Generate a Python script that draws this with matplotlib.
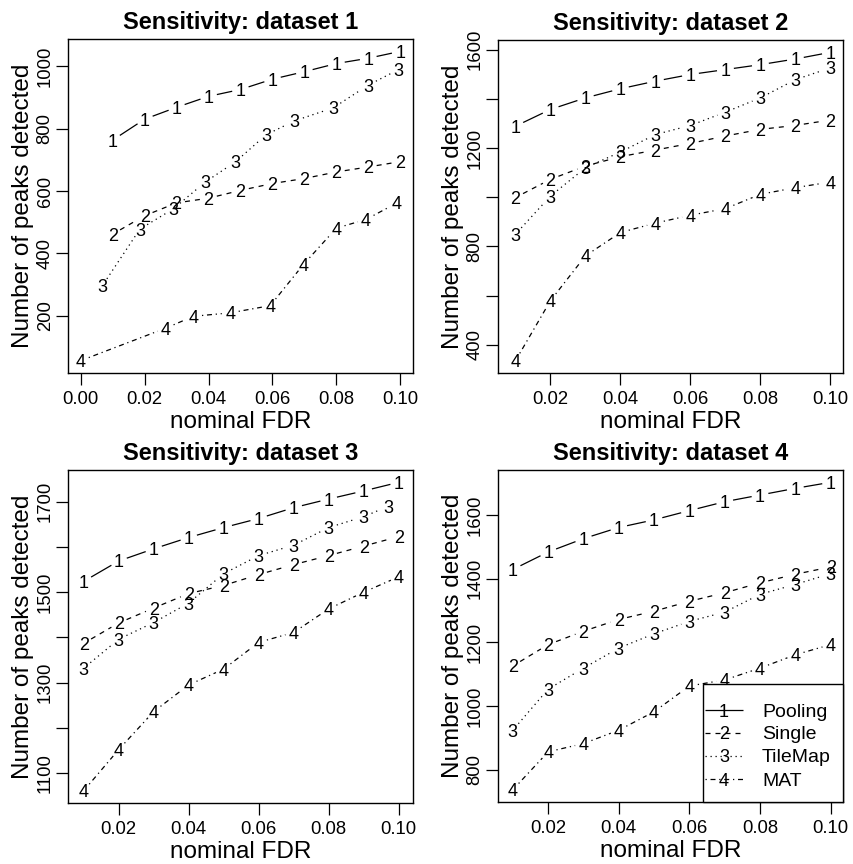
import numpy as np
import matplotlib
matplotlib.use("Agg")
import matplotlib.pyplot as plt
from matplotlib.patches import Rectangle

plt.rcParams['font.family'] = ['Liberation Sans', 'DejaVu Sans']

# ---------------- data ----------------
methods = ["Pooling", "Single", "TileMap", "MAT"]
digits = ["1", "2", "3", "4"]
fdr = [0.01, 0.02, 0.03, 0.04, 0.05, 0.06, 0.07, 0.08, 0.09, 0.10]

# dataset 1
d1_x_tilemap = [0.0067, 0.0185, 0.029, 0.039, 0.0485, 0.058, 0.067, 0.079, 0.090, 0.0995]
d1_x_mat = [0.0, 0.0266, 0.0353, 0.0468, 0.0593, 0.0698, 0.080, 0.0893, 0.099]
d1_pooling = [763, 830, 868, 903, 925, 958, 982, 1008, 1025, 1047]
d1_single = [462, 521, 562, 577, 602, 624, 640, 661, 677, 694]
d1_tilemap = [296, 478, 543, 629, 694, 780, 825, 866, 939, 989]
d1_mat = [57, 161, 199, 210, 233, 366, 481, 509, 562]

# dataset 2
d2_pooling = [1289, 1357, 1404, 1441, 1472, 1499, 1519, 1539, 1562, 1589]
d2_single = [999, 1073, 1127, 1165, 1192, 1219, 1249, 1276, 1292, 1314]
d2_tilemap = [850, 1005, 1120, 1184, 1255, 1292, 1346, 1404, 1478, 1526]
d2_mat = [336, 580, 762, 857, 895, 927, 954, 1012, 1039, 1062]

# dataset 3
d3_x_tilemap = [0.01, 0.02, 0.03, 0.04, 0.05, 0.06, 0.07, 0.08, 0.09, 0.097]
d3_pooling = [1524, 1569, 1596, 1621, 1643, 1663, 1687, 1706, 1724, 1743]
d3_single = [1387, 1432, 1465, 1497, 1515, 1539, 1561, 1581, 1602, 1623]
d3_tilemap = [1332, 1396, 1433, 1476, 1541, 1581, 1604, 1643, 1667, 1690]
d3_mat = [1061, 1152, 1236, 1295, 1330, 1389, 1411, 1463, 1500, 1534]

# dataset 4
d4_pooling = [1429, 1484, 1526, 1561, 1585, 1614, 1642, 1663, 1684, 1703]
d4_single = [1126, 1193, 1235, 1272, 1298, 1329, 1356, 1387, 1414, 1437]
d4_tilemap = [924, 1053, 1119, 1182, 1227, 1266, 1295, 1351, 1382, 1416]
d4_mat = [737, 856, 882, 924, 982, 1063, 1082, 1119, 1161, 1193]

titles = ["Sensitivity: dataset 1", "Sensitivity: dataset 2",
          "Sensitivity: dataset 3", "Sensitivity: dataset 4"]
xticks = [[0.00, 0.02, 0.04, 0.06, 0.08, 0.10],
          [0.02, 0.04, 0.06, 0.08, 0.10],
          [0.02, 0.04, 0.06, 0.08, 0.10],
          [0.02, 0.04, 0.06, 0.08, 0.10]]
yticks = [[200, 400, 600, 800, 1000],
          [400, 600, 800, 1000, 1200, 1400, 1600],
          [1100, 1200, 1300, 1400, 1500, 1600, 1700],
          [800, 1000, 1200, 1400, 1600]]
ytick_labels = [["200", "400", "600", "800", "1000"],
                ["400", "", "800", "", "1200", "", "1600"],
                ["1100", "", "1300", "", "1500", "", "1700"],
                ["800", "1000", "1200", "1400", "1600"]]
xlims = [(-0.004, 0.104), (0.005, 0.1036), (0.0055, 0.1041), (0.0058, 0.1035)]

panels = [
    [(fdr, d1_pooling), (fdr, d1_single), (d1_x_tilemap, d1_tilemap), (d1_x_mat, d1_mat)],
    [(fdr, d2_pooling), (fdr, d2_single), (fdr, d2_tilemap), (fdr, d2_mat)],
    [(fdr, d3_pooling), (fdr, d3_single), (d3_x_tilemap, d3_tilemap), (fdr, d3_mat)],
    [(fdr, d4_pooling), (fdr, d4_single), (fdr, d4_tilemap), (fdr, d4_mat)],
]

# ---------------- style ----------------
LW = 0.9
styles = ['-', (0, (4, 4)), (0, (1, 3)), (0, (1, 3, 4, 3))]
GAP = 8.5  # pixels gap around each digit
DIGIT_FS = 13

W, H = 854, 864
fig = plt.figure(figsize=(W / 100, H / 100), dpi=100)

# axes boxes in pixels: left, top, right, bottom
boxes = [(68, 39, 413, 373), (498, 40, 843, 373),
         (68, 470, 413, 803), (498, 470, 843, 802)]


def draw_series(ax, xs, ys, digit, ls):
    pts = ax.transData.transform(np.column_stack([xs, ys]))
    inv = ax.transData.inverted()
    for p1, p2 in zip(pts[:-1], pts[1:]):
        d = p2 - p1
        L = np.hypot(*d)
        if L <= 2 * GAP:
            continue
        u = d / L
        a = inv.transform(p1 + u * GAP)
        b = inv.transform(p2 - u * GAP)
        ax.plot([a[0], b[0]], [a[1], b[1]], color='black', lw=LW,
                linestyle=ls, solid_capstyle='butt', dash_capstyle='butt')
    for x, y in zip(xs, ys):
        ax.text(x, y, digit, ha='center', va='center_baseline',
                fontsize=DIGIT_FS, color='black')


for i, (box, series) in enumerate(zip(boxes, panels)):
    l, t, r, b = box
    ax = fig.add_axes([l / W, 1 - b / H, (r - l) / W, (b - t) / H])
    # y limits with R's 4% padding
    ally = np.concatenate([np.asarray(s[1], float) for s in series])
    lo, hi = ally.min(), ally.max()
    pad = 0.04 * (hi - lo)
    ax.set_ylim(lo - pad, hi + pad)
    ax.set_xlim(*xlims[i])
    for k, (xs, ys) in enumerate(series):
        draw_series(ax, xs, ys, digits[k], styles[k])
    ax.set_xticks(xticks[i])
    ax.set_xticklabels(["%.2f" % v for v in xticks[i]])
    ax.set_yticks(yticks[i])
    ax.set_yticklabels(ytick_labels[i], rotation=90, va='center')
    ax.tick_params(axis='both', direction='out', length=8.5, width=0.9,
                   labelsize=13.3, colors='black')
    ax.tick_params(axis='x', pad=4.5)
    ax.tick_params(axis='y', pad=1.8)
    for sp in ax.spines.values():
        sp.set_linewidth(1.0)
    ax.set_title(titles[i], fontsize=17, fontweight='bold', pad=7)
    ax.set_xlabel("nominal FDR", fontsize=17.5, va='center')
    ax.xaxis.set_label_coords(0.5, -0.148)
    ax.set_ylabel("Number of peaks detected", fontsize=17.5, va='center', ha='center')
    ax.yaxis.set_label_coords(-0.13, 0.5)

    if i == 3:
        # legend box drawn like R's legend(): lines with the digit in the middle
        x0, y1 = 0.594, 0.355
        ax.add_patch(Rectangle((x0, 0.0), 1.0 - x0, y1, transform=ax.transAxes,
                               facecolor='white', edgecolor='black', lw=1.0,
                               zorder=5, clip_on=False))
        rows = [0.277, 0.208, 0.139, 0.069]
        for k in range(4):
            yy = rows[k]
            ax.plot([0.60, 0.71], [yy, yy], transform=ax.transAxes,
                    color='black', lw=LW, linestyle=styles[k], zorder=6,
                    solid_capstyle='butt', dash_capstyle='butt')
            ax.text(0.655, yy, digits[k], transform=ax.transAxes,
                    ha='center', va='center_baseline', fontsize=DIGIT_FS, zorder=7)
            ax.text(0.765, yy, methods[k], transform=ax.transAxes,
                    ha='left', va='center_baseline', fontsize=14, zorder=7)

fig.savefig("out.png", dpi=100)
